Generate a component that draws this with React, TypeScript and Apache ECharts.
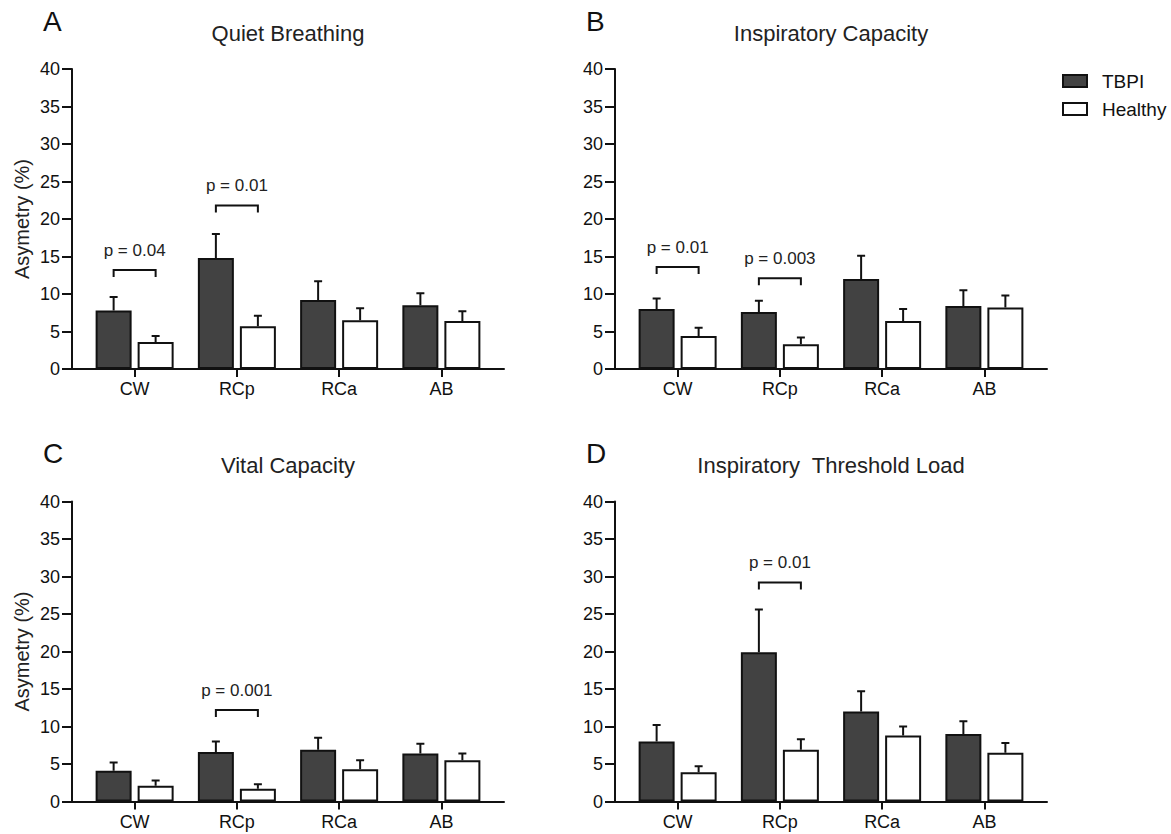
import React, { useEffect, useRef } from "react";
import * as echarts from "echarts";

const categories = ["CW", "RCp", "RCa", "AB"];
const seriesNames = ["TBPI", "Healthy"];
const Y_MIN = 0;
const Y_MAX = 40;
const Y_STEP = 5;

// A: Quiet Breathing
const qbTbpiMean = [7.8, 14.8, 9.2, 8.5];
const qbTbpiSem = [1.8, 3.2, 2.5, 1.6];
const qbHealthyMean = [3.6, 5.7, 6.5, 6.4];
const qbHealthySem = [0.8, 1.4, 1.6, 1.3];
const qbBracketCat = [0, 1];
const qbBracketLevel = [13.2, 21.8];
const qbBracketLabel = ["p = 0.04", "p = 0.01"];

// B: Inspiratory Capacity
const icTbpiMean = [8.0, 7.6, 12.0, 8.4];
const icTbpiSem = [1.4, 1.5, 3.1, 2.1];
const icHealthyMean = [4.4, 3.3, 6.4, 8.2];
const icHealthySem = [1.1, 0.9, 1.6, 1.6];
const icBracketCat = [0, 1];
const icBracketLevel = [13.6, 12.1];
const icBracketLabel = ["p = 0.01", "p = 0.003"];

// C: Vital Capacity
const vcTbpiMean = [4.1, 6.6, 6.9, 6.4];
const vcTbpiSem = [1.1, 1.4, 1.6, 1.3];
const vcHealthyMean = [2.1, 1.7, 4.3, 5.5];
const vcHealthySem = [0.7, 0.6, 1.2, 0.9];
const vcBracketCat = [1];
const vcBracketLevel = [12.2];
const vcBracketLabel = ["p = 0.001"];

// D: Inspiratory Threshold Load
const itlTbpiMean = [8.0, 19.9, 12.0, 9.0];
const itlTbpiSem = [2.2, 5.7, 2.7, 1.7];
const itlHealthyMean = [3.9, 6.9, 8.8, 6.5];
const itlHealthySem = [0.8, 1.4, 1.2, 1.3];
const itlBracketCat = [1];
const itlBracketLevel = [29.2];
const itlBracketLabel = ["p = 0.01"];

const FONT = "'Liberation Sans', Arial, Helvetica, sans-serif";
const INK = "#111";
const DARK = "#424242";

interface Panel {
  letter: string;
  title: string;
  left: number;
  top: number;
  yName: boolean;
  tbpi: number[];
  tbpiSem: number[];
  healthy: number[];
  healthySem: number[];
  bCat: number[];
  bLevel: number[];
  bLabel: string[];
}

const panels: Panel[] = [
  { letter: "A", title: "Quiet Breathing", left: 72, top: 69, yName: true, tbpi: qbTbpiMean, tbpiSem: qbTbpiSem, healthy: qbHealthyMean, healthySem: qbHealthySem, bCat: qbBracketCat, bLevel: qbBracketLevel, bLabel: qbBracketLabel },
  { letter: "B", title: "Inspiratory Capacity", left: 615, top: 69, yName: false, tbpi: icTbpiMean, tbpiSem: icTbpiSem, healthy: icHealthyMean, healthySem: icHealthySem, bCat: icBracketCat, bLevel: icBracketLevel, bLabel: icBracketLabel },
  { letter: "C", title: "Vital Capacity", left: 72, top: 501.5, yName: true, tbpi: vcTbpiMean, tbpiSem: vcTbpiSem, healthy: vcHealthyMean, healthySem: vcHealthySem, bCat: vcBracketCat, bLevel: vcBracketLevel, bLabel: vcBracketLabel },
  { letter: "D", title: "Inspiratory  Threshold Load", left: 615, top: 501.5, yName: false, tbpi: itlTbpiMean, tbpiSem: itlTbpiSem, healthy: itlHealthyMean, healthySem: itlHealthySem, bCat: itlBracketCat, bLevel: itlBracketLevel, bLabel: itlBracketLabel },
];

const FRAME_W = 432;
const PLOT_H = 300;
const INSET = 11.5;
const BAR_OFFSET = 21;

function buildOption() {
  const grid: any[] = [];
  const xAxis: any[] = [];
  const yAxis: any[] = [];
  const series: any[] = [];
  const graphic: any[] = [];

  panels.forEach((p, k) => {
    const fi = 2 * k;
    const bi = 2 * k + 1;
    grid.push({ left: p.left, top: p.top, width: FRAME_W, height: PLOT_H, containLabel: false });
    grid.push({ left: p.left + INSET, top: p.top, width: FRAME_W - 2 * INSET, height: PLOT_H, containLabel: false });

    xAxis.push({
      type: "value", gridIndex: fi, min: 0, max: 1,
      axisLine: { show: true, lineStyle: { color: INK, width: 2 } },
      axisTick: { show: false }, axisLabel: { show: false }, splitLine: { show: false },
    });
    xAxis.push({
      type: "category", gridIndex: bi, data: categories,
      axisLine: { show: false },
      axisTick: { show: true, alignWithLabel: true, length: 8, lineStyle: { color: INK, width: 2 } },
      axisLabel: { fontSize: 18, color: INK, fontFamily: FONT, margin: 11 },
      splitLine: { show: false },
    });
    yAxis.push({
      type: "value", gridIndex: fi, min: Y_MIN, max: Y_MAX, interval: Y_STEP,
      axisLine: { show: true, lineStyle: { color: INK, width: 2 } },
      axisTick: { show: true, length: 10, lineStyle: { color: INK, width: 2 } },
      axisLabel: { fontSize: 18, color: INK, fontFamily: FONT, margin: 12 },
      splitLine: { show: false },
      name: p.yName ? "Asymetry (%)" : "",
      nameLocation: "middle",
      nameGap: 40,
      nameTextStyle: { fontSize: 20, color: "#222", fontFamily: FONT },
    });
    yAxis.push({ type: "value", gridIndex: bi, min: Y_MIN, max: Y_MAX, interval: Y_STEP, show: false });

    const groups = [
      { name: seriesNames[0], mean: p.tbpi, sem: p.tbpiSem, color: DARK, off: -BAR_OFFSET },
      { name: seriesNames[1], mean: p.healthy, sem: p.healthySem, color: "#ffffff", off: BAR_OFFSET },
    ];
    groups.forEach((g) => {
      series.push({
        type: "bar", name: g.name, xAxisIndex: bi, yAxisIndex: bi,
        data: g.mean, barWidth: 36, barGap: "16.7%",
        itemStyle: { color: g.color, borderColor: INK, borderWidth: 2 },
        emphasis: { disabled: true },
      });
    });
    groups.forEach((g) => {
      const off = g.off;
      series.push({
        type: "custom", name: g.name + " SEM", xAxisIndex: bi, yAxisIndex: bi,
        data: g.mean.map((m, i) => [i, m, m + g.sem[i]]),
        z: 3,
        renderItem: (params: any, api: any) => {
          const base = api.coord([api.value(0), api.value(1)]);
          const top = api.coord([api.value(0), api.value(2)]);
          const x = base[0] + off;
          const st = { stroke: INK, lineWidth: 2 };
          return {
            type: "group",
            children: [
              { type: "line", shape: { x1: x, y1: base[1], x2: x, y2: top[1] }, style: st },
              { type: "line", shape: { x1: x - 4, y1: top[1], x2: x + 4, y2: top[1] }, style: st },
            ],
          };
        },
      });
    });
    const labels = p.bLabel;
    series.push({
      type: "custom", name: "bracket" + k, xAxisIndex: bi, yAxisIndex: bi,
      data: p.bCat.map((c, i) => [c, p.bLevel[i]]),
      z: 4,
      renderItem: (params: any, api: any) => {
        const c = api.coord([api.value(0), api.value(1)]);
        const l = c[0] - BAR_OFFSET;
        const r = c[0] + BAR_OFFSET;
        const y = c[1];
        return {
          type: "group",
          children: [
            {
              type: "polyline",
              shape: { points: [[l, y + 7], [l, y], [r, y], [r, y + 7]] },
              style: { stroke: INK, lineWidth: 2, fill: null },
            },
            {
              type: "text", x: c[0], y: y - 20,
              style: { text: labels[params.dataIndex], fontSize: 17, fontFamily: FONT, fill: "#222", align: "center", verticalAlign: "middle" },
            },
          ],
        };
      },
    });

    graphic.push({
      type: "text", left: p.left - 29, top: p.top - 62,
      style: { text: p.letter, fontSize: 28, fontFamily: FONT, fill: INK },
    });
    graphic.push({
      type: "text", x: p.left + FRAME_W / 2, y: p.top - 36,
      style: { text: p.title, fontSize: 22, fontFamily: FONT, fill: "#222", align: "center", verticalAlign: "middle" },
    });
  });

  return {
    animation: false,
    backgroundColor: "#ffffff",
    textStyle: { fontFamily: FONT },
    grid, xAxis, yAxis, series, graphic,
    legend: {
      data: seriesNames,
      orient: "vertical",
      left: 1057,
      top: 66,
      icon: "rect",
      itemWidth: 24,
      itemHeight: 12,
      itemGap: 8,
      selectedMode: false,
      textStyle: { fontSize: 19, color: INK, fontFamily: FONT, lineHeight: 20, padding: [0, 0, 0, 10] },
    },
  };
}

export default function App() {
  const ref = useRef<HTMLDivElement>(null);
  useEffect(() => {
    document.body.style.margin = "0";
    if (!ref.current) return;
    const chart = echarts.init(ref.current, undefined, { renderer: "svg" });
    chart.setOption(buildOption() as any);
    return () => chart.dispose();
  }, []);
  return <div ref={ref} style={{ width: 1171, height: 834 }} />;
}
